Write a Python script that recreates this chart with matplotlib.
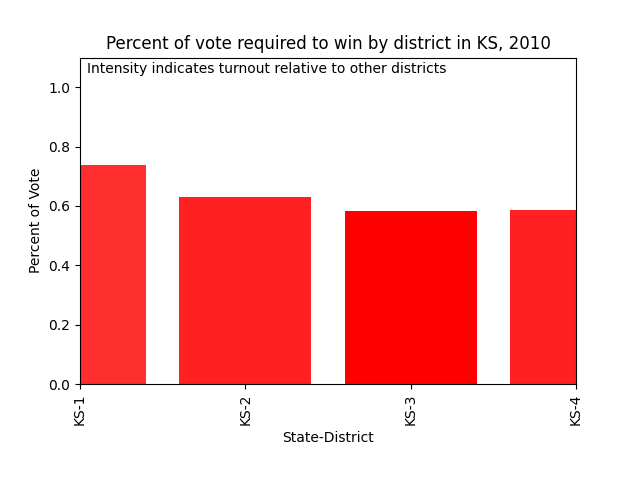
import matplotlib
matplotlib.use("Agg")
import matplotlib.pyplot as plt

districts = ["KS-1", "KS-2", "KS-3", "KS-4"]
vote_pct = [0.737, 0.630, 0.582, 0.586]
turnout_alpha = [0.82, 0.87, 1.0, 0.87]

fig, ax = plt.subplots(figsize=(6.4, 4.8), dpi=100)
fig.subplots_adjust(bottom=0.2)
for i, (v, a) in enumerate(zip(vote_pct, turnout_alpha)):
    ax.bar(i, v, width=0.8, color="red", alpha=a)

ax.set_xticks(range(len(districts)))
ax.set_xticklabels(districts, rotation=90)
ax.set_xlim(0, len(districts) - 1)
ax.set_ylim(0, 1.1)
ax.set_xlabel("State-District")
ax.set_ylabel("Percent of Vote")
ax.set_title("Percent of vote required to win by district in KS, 2010")
ax.text(0.015, 0.985, "Intensity indicates turnout relative to other districts",
        transform=ax.transAxes, ha="left", va="top", fontsize=10)

fig.savefig("out.png")
